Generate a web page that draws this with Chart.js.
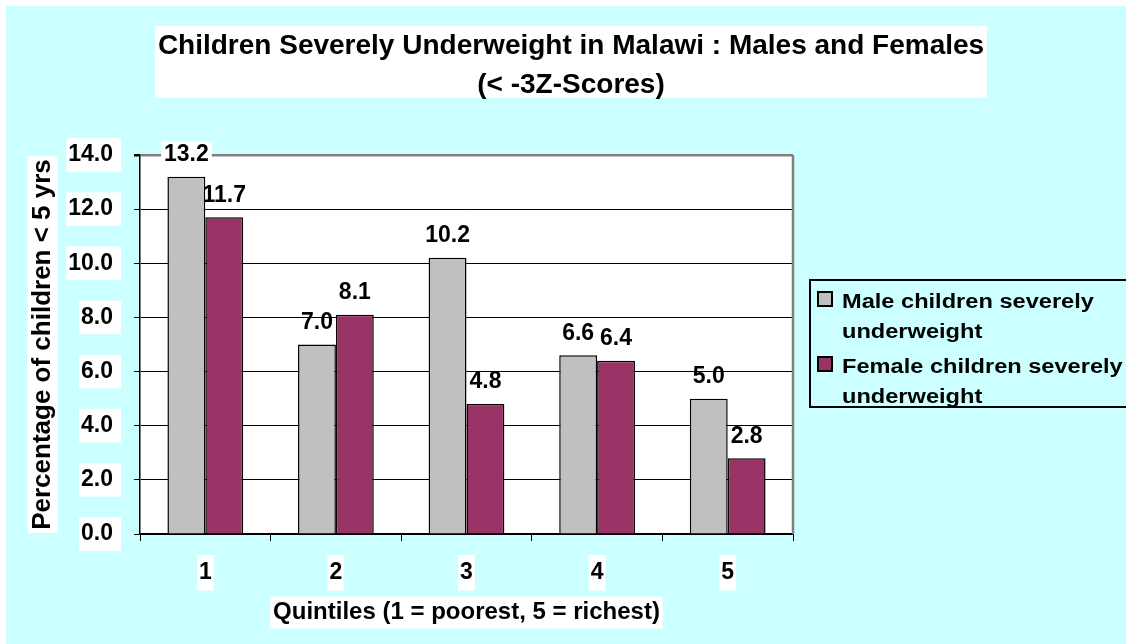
<!DOCTYPE html>
<html>
<head>
<meta charset="utf-8">
<script src="https://cdn.jsdelivr.net/npm/chart.js@4.4.1/dist/chart.umd.min.js"></script>
<style>
  html, body { margin: 0; padding: 0; background: #fff; }
  canvas { display: block; }
</style>
</head>
<body>
<canvas id="chart" width="1126" height="644"></canvas>
<script>
const quintiles = ['1', '2', '3', '4', '5'];
const maleValues = [13.2, 7.0, 10.2, 6.6, 5.0];
const femaleValues = [11.7, 8.1, 4.8, 6.4, 2.8];
const seriesNames = ['Male children severely underweight', 'Female children severely underweight'];
const legendLines = [['Male children severely', 'underweight'], ['Female children severely', 'underweight']];
const titleLines = ['Children Severely Underweight in Malawi : Males and Females', '(< -3Z-Scores)'];
const xTitle = 'Quintiles (1 = poorest, 5 = richest)';
const yTitle = 'Percentage of children < 5 yrs';

const FAMILY = "'Liberation Sans', Arial, sans-serif";
Chart.defaults.font.family = FAMILY;
Chart.defaults.color = '#000';

const backdrop = {
  id: 'backdrop',
  beforeDraw(chart) {
    const { ctx, chartArea: a, scales } = chart;
    ctx.save();
    ctx.fillStyle = '#ffffff';
    ctx.fillRect(0, 0, chart.width, chart.height);
    ctx.fillStyle = '#ccffff';
    ctx.fillRect(6, 6, chart.width - 6, chart.height - 6);
    ctx.fillStyle = '#ffffff';
    ctx.fillRect(a.left, a.top, a.right - a.left, a.bottom - a.top);

    // chart title on its white box
    ctx.fillRect(155, 26, 832, 72);
    ctx.fillStyle = '#000';
    ctx.font = 'bold 28px ' + FAMILY;
    ctx.textAlign = 'center';
    ctx.textBaseline = 'middle';
    ctx.fillText(titleLines[0], 571, 46);
    ctx.fillText(titleLines[1], 571, 85);

    // white boxes behind axis titles
    ctx.fillStyle = '#ffffff';
    const xo = scales.x.options.title;
    ctx.font = 'bold ' + xo.font.size + 'px ' + FAMILY;
    const xw = ctx.measureText(xTitle).width;
    const xcy = scales.x.bottom - xo.padding.bottom - xo.font.size * 1.2 / 2;
    ctx.fillRect((a.left + a.right) / 2 - xw / 2 - 3, xcy - 16, xw + 6, 32);

    const yo = scales.y.options.title;
    ctx.font = 'bold ' + yo.font.size + 'px ' + FAMILY;
    const yw = ctx.measureText(yTitle).width;
    const ycx = scales.y.left + yo.padding.top + yo.font.size * 1.2 / 2;
    ctx.fillRect(ycx - 15, (a.top + a.bottom) / 2 - yw / 2 - 3, 30, yw + 6);
    ctx.restore();
  },
  beforeDatasetsDraw(chart) {
    const { ctx, chartArea: a } = chart;
    ctx.save();
    ctx.strokeStyle = '#808080';
    ctx.lineWidth = 2.5;
    ctx.beginPath();
    ctx.moveTo(a.right, a.top);
    ctx.lineTo(a.right, a.bottom);
    ctx.stroke();
    ctx.restore();
  }
};

const valueLabels = {
  id: 'valueLabels',
  afterDatasetsDraw(chart) {
    const { ctx, chartArea: a } = chart;
    ctx.save();
    ctx.font = 'bold 23px ' + FAMILY;
    ctx.textAlign = 'center';
    ctx.textBaseline = 'middle';
    chart.data.datasets.forEach((ds, i) => {
      chart.getDatasetMeta(i).data.forEach((bar, j) => {
        const txt = ds.data[j].toFixed(1);
        const y = bar.y - 22;
        const w = ctx.measureText(txt).width;
        if (y - 12 < a.top) {
          ctx.fillStyle = '#fff';
          ctx.fillRect(bar.x - w / 2 - 3, y - 13, w + 6, 26);
        }
        ctx.fillStyle = '#000';
        ctx.fillText(txt, bar.x, y);
      });
    });
    ctx.restore();
  }
};

const boxLegend = {
  id: 'boxLegend',
  afterDraw(chart) {
    const { ctx } = chart;
    ctx.save();
    ctx.strokeStyle = '#000';
    ctx.lineWidth = 2;
    ctx.strokeRect(810, 280, 330, 127);
    ctx.font = 'bold 20px ' + FAMILY;
    ctx.textAlign = 'left';
    ctx.textBaseline = 'middle';
    chart.data.datasets.forEach((ds, i) => {
      const top = 299 + i * 65;
      ctx.fillStyle = ds.backgroundColor;
      ctx.fillRect(818, top - 7, 14, 14);
      ctx.lineWidth = 2;
      ctx.strokeRect(818, top - 7, 14, 14);
      ctx.fillStyle = '#000';
      legendLines[i].forEach((line, k) => {
        ctx.save();
        ctx.translate(842, top + 3 + k * 30);
        ctx.scale(1.18, 1);
        ctx.fillText(line, 0, 0);
        ctx.restore();
      });
    });
    ctx.restore();
  }
};

const ctx = document.getElementById('chart').getContext('2d');
new Chart(ctx, {
  type: 'bar',
  data: {
    labels: quintiles,
    datasets: [
      { label: seriesNames[0], data: maleValues, backgroundColor: '#c0c0c0', borderColor: '#000', borderWidth: 1.5 },
      { label: seriesNames[1], data: femaleValues, backgroundColor: '#993366', borderColor: '#000', borderWidth: 1.5 }
    ]
  },
  options: {
    responsive: false,
    animation: false,
    layout: { padding: { left: 6, right: 333, top: 155, bottom: 0 } },
    datasets: { bar: { categoryPercentage: 0.58, barPercentage: 1.0 } },
    plugins: {
      legend: { display: false },
      tooltip: { enabled: false }
    },
    scales: {
      x: {
        grid: { offset: true, drawOnChartArea: false, color: '#000', tickLength: 7 },
        border: { color: '#000', width: 1.5 },
        ticks: {
          color: '#000', font: { size: 23, weight: 'bold' }, padding: 18,
          showLabelBackdrop: true, backdropColor: '#fff', backdropPadding: { left: 2, right: 2, top: 4, bottom: 4 }
        },
        title: { display: true, text: xTitle, color: '#000', font: { size: 24, weight: 'bold' }, padding: { top: 0, bottom: 17 } },
        afterFit: s => { s.height = 110; }
      },
      y: {
        min: 0, max: 14,
        grid: {
          color: c => (c.tick && c.tick.value === 14 ? '#808080' : '#000'),
          lineWidth: c => (c.tick && c.tick.value === 14 ? 2.5 : 1),
          tickColor: '#000', tickLength: 6
        },
        border: { color: '#000', width: 1.5 },
        ticks: {
          stepSize: 2, callback: v => v.toFixed(1),
          color: '#000', font: { size: 23, weight: 'bold' }, padding: 21,
          showLabelBackdrop: true, backdropColor: '#fff', backdropPadding: { left: 2, right: 8, top: 3, bottom: 3 }
        },
        title: { display: true, text: yTitle, color: '#000', font: { size: 26, weight: 'bold' }, padding: { top: 21, bottom: 0 } },
        afterFit: s => { s.width = 134; }
      }
    }
  },
  plugins: [backdrop, valueLabels, boxLegend]
});
</script>
</body>
</html>
